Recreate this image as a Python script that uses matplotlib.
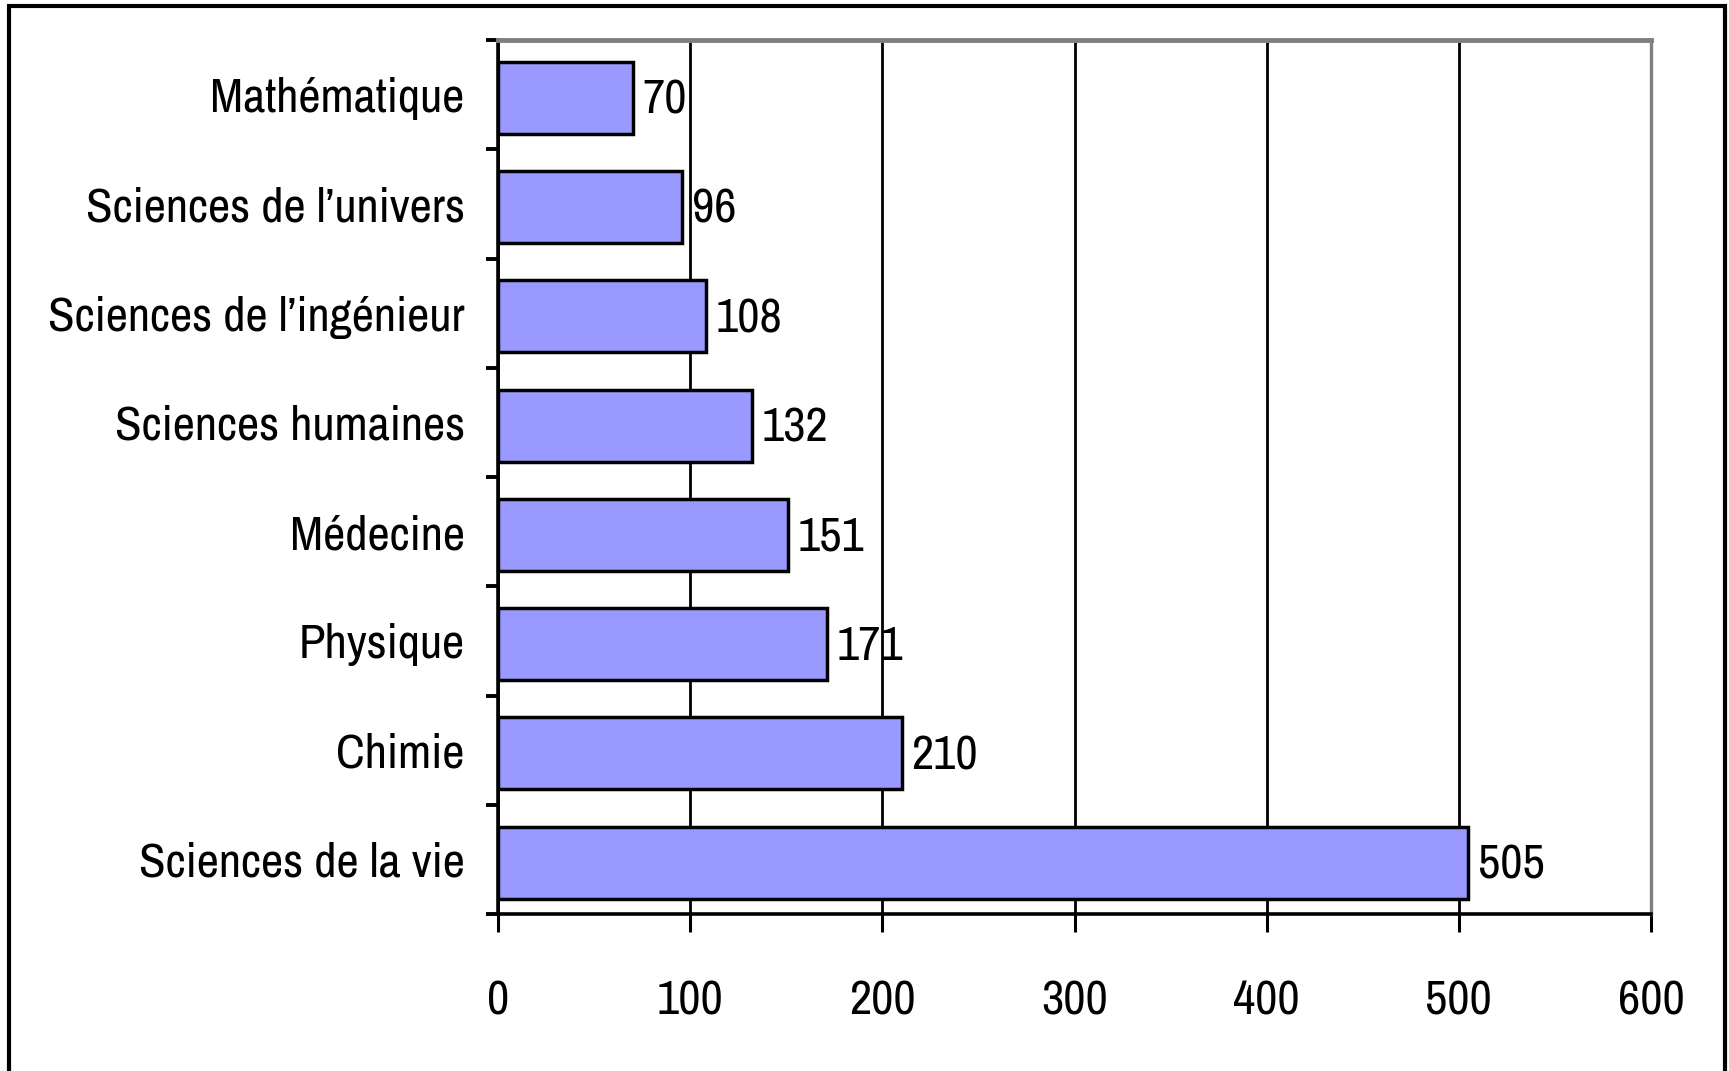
import matplotlib.pyplot as plt
from matplotlib.patches import Rectangle
import numpy as np

categories = ["Mathématique", "Sciences de l’univers", "Sciences de l’ingénieur",
              "Sciences humaines", "Médecine", "Physique", "Chimie", "Sciences de la vie"]
values = [70, 96, 108, 132, 151, 171, 210, 505]
x_ticks = [0, 100, 200, 300, 400, 500, 600]

plt.rcParams['font.family'] = ['Archivo Narrow', 'Liberation Sans', 'DejaVu Sans']

fig = plt.figure(figsize=(17.29, 10.71), dpi=100)
ax = fig.add_axes([498 / 1729, 1 - 914 / 1071, (1651 - 498) / 1729, (914 - 40) / 1071])

y = np.arange(len(categories))
ax.barh(y + 0.03, values, height=0.66, color='#9999ff', edgecolor='black', linewidth=2.5, zorder=3)

for yi, v in zip(y, values):
    ax.text(v + 5, yi + 0.05, str(v), va='center', ha='left', fontsize=35, zorder=4)

ax.set_xlim(0, 600)
ax.set_ylim(len(categories) - 0.5, -0.5)
ax.set_xticks(x_ticks)
ax.set_xticklabels([str(t) for t in x_ticks], fontsize=35)
ax.set_yticks(y)
ax.set_yticklabels(categories, fontsize=35)
ax.set_yticks(np.arange(-0.5, len(categories)), minor=True)
ax.tick_params(axis='y', which='major', length=0, pad=24)
ax.tick_params(axis='y', which='minor', length=9, width=2.8, direction='out')
ax.tick_params(axis='x', length=13, width=2.2, direction='out', pad=34)

ax.grid(axis='x', color='black', linewidth=2.0, zorder=0)
ax.set_axisbelow(True)

for side in ['left', 'bottom']:
    ax.spines[side].set_color('black')
    ax.spines[side].set_linewidth(2.6)
ax.spines['top'].set_color('#808080')
ax.spines['top'].set_linewidth(3.5)
ax.spines['right'].set_color('#808080')
ax.spines['right'].set_linewidth(2.4)

# outer frame (bottom edge falls outside the picture)
fig.add_artist(Rectangle((9 / 1729, -0.05), (1725 - 9) / 1729, 1.05 - 6 / 1071,
                         transform=fig.transFigure, fill=False,
                         edgecolor='black', linewidth=3))

fig.savefig('out.png', dpi=100)
